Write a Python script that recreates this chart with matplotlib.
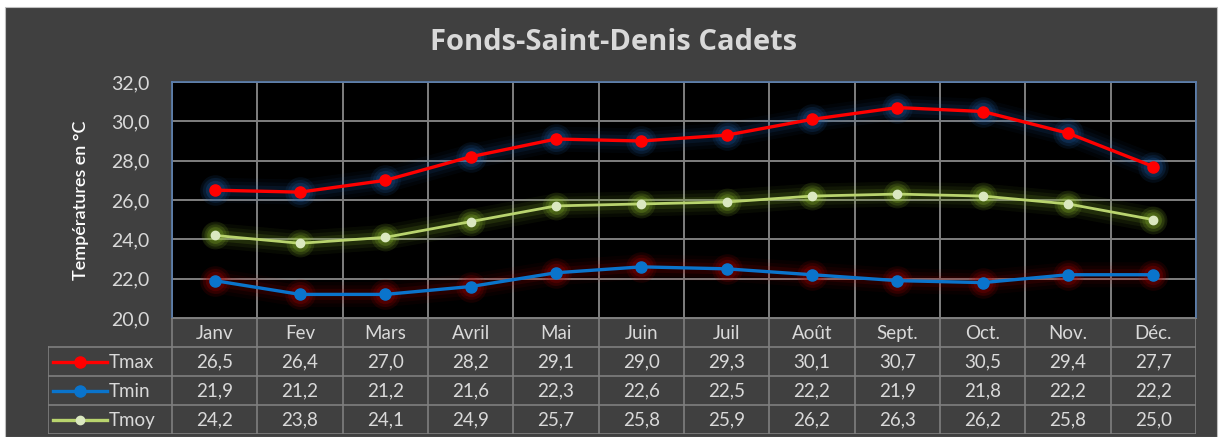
import numpy as np
import matplotlib.pyplot as plt
from matplotlib.patches import Rectangle
from matplotlib.lines import Line2D

plt.rcParams["font.family"] = ["Lato", "DejaVu Sans"]

# ---------- données ----------
mois = ["Janv", "Fev", "Mars", "Avril", "Mai", "Juin", "Juil", "Août",
        "Sept.", "Oct.", "Nov.", "Déc."]
tmax = [26.5, 26.4, 27.0, 28.2, 29.1, 29.0, 29.3, 30.1, 30.7, 30.5, 29.4, 27.7]
tmin = [21.9, 21.2, 21.2, 21.6, 22.3, 22.6, 22.5, 22.2, 21.9, 21.8, 22.2, 22.2]
tmoy = [24.2, 23.8, 24.1, 24.9, 25.7, 25.8, 25.9, 26.2, 26.3, 26.2, 25.8, 25.0]

series = [
    ("Tmax", tmax, "#ff0000", "#1f5fa8", 8, "#ff0000"),
    ("Tmin", tmin, "#0a74cc", "#b00000", 8, "#0a74cc"),
    ("Tmoy", tmoy, "#b9d46e", "#9acd32", 6, "#dbe8c0"),
]

W, H = 1219, 437
FOND = "#404040"
TEXTE = "#d9d9d9"
GRILLE = "#7f7f7f"


def px(x0, y0, x1, y1):
    # boîte en pixels -> coordonnées figure
    return [x0 / W, 1 - y1 / H, (x1 - x0) / W, (y1 - y0) / H]


def fmt(v):
    return f"{v:.1f}".replace(".", ",")


fig = plt.figure(figsize=(W / 100, H / 100), dpi=100, facecolor="white")
fig.patches.append(Rectangle((5 / W, 0), (1217 - 5) / W, 1 - 7 / H,
                             transform=fig.transFigure, facecolor=FOND,
                             edgecolor="#bfbfbf", lw=0.8, zorder=-10))

# ---------- zone de tracé ----------
ax = fig.add_axes(px(172, 82, 1196, 318))
ax.set_facecolor("black")
x = np.arange(len(mois))

for nom, vals, col, halo, ms, mfc in series:
    # halo lumineux autour des courbes
    for lw, a in [(18, 0.05), (13, 0.07), (8, 0.12)]:
        ax.plot(x, vals, color=halo, lw=lw, alpha=a, solid_capstyle="round",
                solid_joinstyle="round", zorder=2)
    for d, a in [(14, 0.12), (10, 0.15), (6, 0.2)]:
        ax.plot(x, vals, "o", color=halo, ms=ms + d, alpha=a, mew=0, zorder=2)
    ax.plot(x, vals, "-o", color=col, lw=2.4 if nom != "Tmoy" else 2.0,
            ms=ms, mfc=mfc, mec=mfc, zorder=3)

yt = np.arange(20, 33, 2)
ax.set_xlim(-0.5, 11.5)
ax.set_ylim(20, 32)
ax.set_yticks(yt)
ax.set_yticklabels([fmt(v) for v in yt], color=TEXTE, fontsize=14)
ax.set_xticks(np.arange(-0.5, 12, 1))
ax.set_xticklabels([])
ax.tick_params(length=0, pad=16)
ax.grid(True, color=GRILLE, lw=1.4)
ax.set_axisbelow(True)
for s in ["left", "top", "right"]:
    ax.spines[s].set_color("#5a7fb0")
    ax.spines[s].set_linewidth(1.2)
ax.spines["bottom"].set_color(GRILLE)

ax.set_ylabel("Températures en °C", color="white", fontsize=13,
              fontweight="semibold", labelpad=16)
fig.text(614 / W, 1 - 42 / H, "Fonds-Saint-Denis Cadets", ha="center",
         va="center", fontsize=21, fontweight="bold", color=TEXTE,
         family=["Open Sans", "DejaVu Sans"])

# ---------- tableau de données ----------
col_w = (1196 - 172) / 12
leg_w = (172 - 48) / col_w
tab = fig.add_axes(px(48, 318, 1196, 434))
tab.set_xlim(-0.5 - leg_w, 11.5)
tab.set_ylim(4, 0)
tab.axis("off")

kw = dict(color=GRILLE, lw=1.2)
# lignes horizontales
tab.plot([-0.5, 11.5], [0, 0], **kw)
for r in [1, 2, 3, 4]:
    tab.plot([-0.5 - leg_w, 11.5], [r, r], **kw)
# lignes verticales
for c in np.arange(-0.5, 12, 1):
    tab.plot([c, c], [0, 4], **kw)
tab.plot([-0.5 - leg_w] * 2, [1, 4], **kw)

for i, m in enumerate(mois):
    tab.text(i, 0.52, m, ha="center", va="center", color=TEXTE, fontsize=13.5)

for r, (nom, vals, col, halo, ms, mfc) in enumerate(series, start=1):
    for i, v in enumerate(vals):
        tab.text(i, r + 0.52, fmt(v), ha="center", va="center", color=TEXTE,
                 fontsize=13.5)
    x0 = -0.5 - leg_w + 5 / col_w
    x1 = -0.5 - leg_w + 59 / col_w
    tab.add_line(Line2D([x0, x1], [r + 0.5] * 2, color=col, lw=2.4))
    tab.plot([(x0 + x1) / 2], [r + 0.5], "o", color=mfc, ms=ms, mec=mfc)
    tab.text(-0.5 - leg_w + 61 / col_w, r + 0.52, nom, ha="left", va="center",
             color=TEXTE, fontsize=13.5)

fig.savefig("out.png", dpi=100, facecolor=fig.get_facecolor())
